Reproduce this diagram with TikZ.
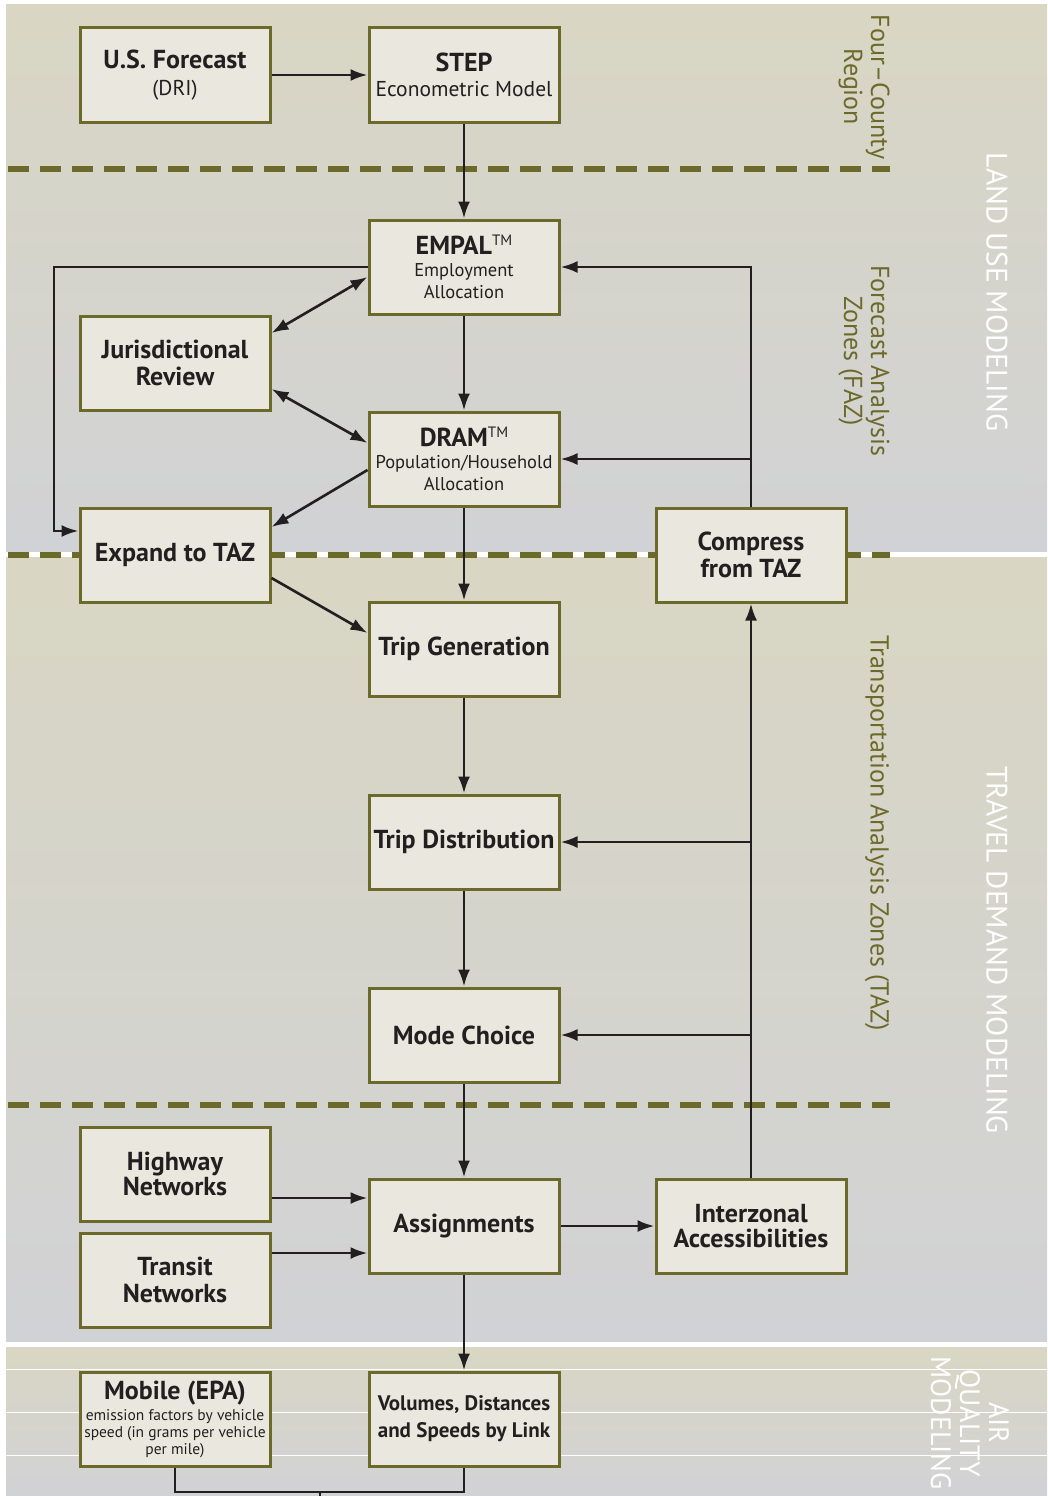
\documentclass[tikz,border=0pt]{standalone}
\usepackage{fontspec}
\setmainfont{PT Sans}
\usetikzlibrary{arrows.meta}
\definecolor{bandtop}{HTML}{D9D6C3}
\definecolor{bandbot}{HTML}{D1D2D5}
\definecolor{boxfill}{HTML}{EAE8DE}
\definecolor{darkolive}{HTML}{6C6A2B}
\definecolor{ink}{HTML}{231F20}
\newcommand\bxtitle{\bfseries\fontsize{26}{27}\selectfont}
\newcommand\bxsub{\mdseries\fontsize{21.5}{24}\selectfont}
\newcommand\bxsmall{\mdseries\fontsize{18.5}{21}\selectfont}
\newcommand\bxtiny{\mdseries\fontsize{15.5}{17}\selectfont}
\newcommand\bxmid{\bfseries\fontsize{21}{27}\selectfont}
\newcommand\tmark{{\mdseries\fontsize{15}{15}\selectfont\raisebox{9pt}{TM}}}

\begin{document}
\begin{tikzpicture}[x=1pt,y=-1pt,>={Latex[length=17pt,width=12pt]},
stage/.style={draw=darkolive,line width=3pt,fill=boxfill,text=ink,minimum width=190pt,minimum height=94pt,inner sep=1pt,align=center,font=\bxtitle},
wire/.style={draw=ink,line width=2.6pt},
zonelabel/.style={text=darkolive,rotate=-90,align=center,font=\fontsize{26}{27}\selectfont},
bandlabel/.style={text=white,rotate=-90,align=center,font=\fontsize{29.5}{29}\selectfont},
zoneline/.style={draw=darkolive,line width=5.5pt,dash pattern=on 21pt off 11pt}]
\useasboundingbox (0,0) rectangle (1047,1496);
\fill[white] (0,0) rectangle (1047,1496);
\shade[top color=bandtop,bottom color=bandbot] (6,5) rectangle (1047,551);
\shade[top color=bandtop,bottom color=bandbot] (6,557) rectangle (1047,1341);
\shade[top color=bandtop,bottom color=bandbot] (6,1347) rectangle (1047,1496);
\foreach \y in {1369,1412,1455} \draw[white,line width=1pt] (6,\y) -- (1047,\y);
\foreach \y in {169,555,1105} \draw[zoneline] (8,\y) -- (890,\y);

\node[zonelabel] (region) at (864,87) {Four--County\\Region};
\node[zonelabel] (faz) at (864,361) {Forecast Analysis\\Zones (FAZ)};
\node[zonelabel] (taz) at (877,833) {Transportation Analysis Zones (TAZ)};
\node[bandlabel] (landuse) at (997,292) {LAND USE MODELING};
\node[bandlabel] (travel) at (997,950) {TRAVEL DEMAND MODELING};
\node[bandlabel,font=\fontsize{28}{29}\selectfont] (air) at (970,1423) {AIR\\QUALITY\\MODELING};

\node[stage] (usf) at (175,75) {U.S. Forecast\\\bxsub (DRI)};
\node[stage] (step) at (464,75) {STEP\\[-2pt]\bxsub Econometric Model};
\node[stage] (empal) at (464,267) {EMPAL\tmark\\[-5pt]\bxsmall Employment\\[-5pt]\bxsmall Allocation};
\node[stage] (jur) at (175,363) {Jurisdictional\\Review};
\node[stage] (dram) at (464,459) {DRAM\tmark\\[-5pt]\bxsmall Population/Household\\[-5pt]\bxsmall Allocation};
\node[stage] (expand) at (175,555) {Expand to TAZ};
\node[stage] (compress) at (751,555) {Compress\\from TAZ};
\node[stage] (tripgen) at (464,649) {Trip Generation};
\node[stage] (tripdist) at (464,842) {Trip Distribution};
\node[stage] (mode) at (464,1035) {Mode Choice};
\node[stage] (highway) at (175,1174) {Highway\\[-2pt]Networks};
\node[stage] (transit) at (175,1280) {Transit\\Networks};
\node[stage] (assign) at (464,1226) {Assignments};
\node[stage] (inter) at (751,1226) {Interzonal\\[-2pt]Accessibilities};
\node[stage] (mobile) at (175,1419) {Mobile (EPA)\\[-6pt]\bxtiny emission factors by vehicle\\[-10pt]\bxtiny speed (in grams per vehicle\\[-10pt]\bxtiny per mile)};
\node[stage] (volumes) at (464,1419) {\bxmid Volumes, Distances\\\bxmid and Speeds by Link};
\coordinate (loopl) at (54,267);
\coordinate (join) at (320,1492);
\coordinate (outlet) at (320,1510);

\draw[wire,->] (usf) -- (step);
\draw[wire,->] (step) -- (empal);
\draw[wire,->] (empal) -- (dram);
\draw[wire,->] (dram) -- (tripgen);
\draw[wire,->] (tripgen) -- (tripdist);
\draw[wire,->] (tripdist) -- (mode);
\draw[wire,->] (mode) -- (assign);
\draw[wire,->] (assign) -- (volumes);
\draw[wire,->] (assign) -- (inter);
\draw[wire,<->] ([yshift=-10pt]empal.west) -- ([yshift=30pt]jur.east);
\draw[wire,<->] ([yshift=-26pt]jur.east) -- ([yshift=16pt]dram.west);
\draw[wire,->] ([yshift=-11pt]dram.west) -- ([yshift=28pt]expand.east);
\draw[wire,->] ([yshift=-23pt]expand.east) -- ([yshift=16pt]tripgen.west);
\draw[wire,->] (empal.west) -- (loopl) |- ([yshift=24pt]expand.west);
\draw[wire,->] (compress.north) |- (empal.east);
\draw[wire,->] (compress.north |- dram.east) -- (dram.east);
\draw[wire,->] (inter.north) -- (compress.south);
\draw[wire,->] (inter.north |- tripdist.east) -- (tripdist.east);
\draw[wire,->] (inter.north |- mode.east) -- (mode.east);
\draw[wire,->] ([yshift=-24pt]highway.east) -- ([yshift=-24pt]highway.east -| assign.west);
\draw[wire,->] ([yshift=27pt]transit.east) -- ([yshift=27pt]transit.east -| assign.west);
\draw[wire] (mobile.south) |- (join) -| (volumes.south);
\draw[wire] (join) -- (outlet);
\end{tikzpicture}
\end{document}
